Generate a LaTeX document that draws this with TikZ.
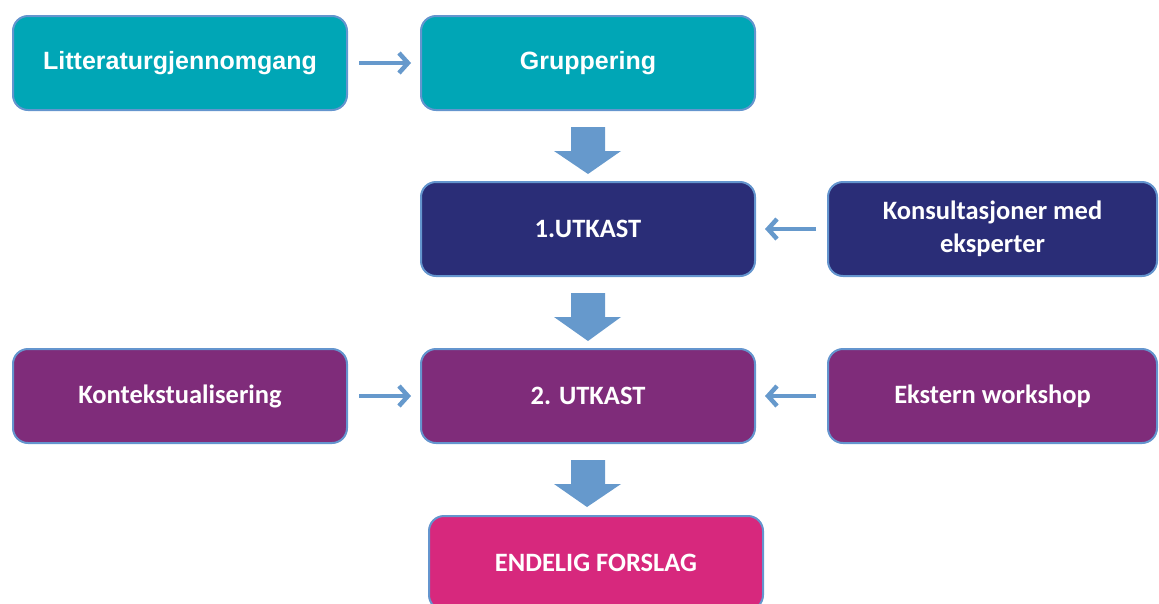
\documentclass[tikz,border=0pt]{standalone}
\usepackage{fontspec}
\setmainfont{Carlito}
\newfontfamily\topfont{Liberation Sans}
\usetikzlibrary{arrows.meta,calc}
\definecolor{cteal}{HTML}{00A6B6}
\definecolor{cnavy}{HTML}{2A2D77}
\definecolor{cpurple}{HTML}{7F2C7A}
\definecolor{cmag}{HTML}{D7287D}
\definecolor{cborder}{HTML}{6495CE}
\definecolor{carrow}{HTML}{6699CC}
\tikzset{
  stepbox/.style={draw=cborder, line width=2pt, rounded corners=15pt, minimum width=334pt, minimum height=94pt, text=white, font=\bfseries\fontsize{26.5}{33}\selectfont, align=center, inner sep=0pt, outer sep=0pt},
  topbox/.style={stepbox, fill=cteal, font=\topfont\bfseries\fontsize{25}{30}\selectfont},
  navybox/.style={stepbox, fill=cnavy},
  purplebox/.style={stepbox, fill=cpurple},
  magbox/.style={stepbox, fill=cmag},
  linearrow/.style={draw=carrow, line width=4.5pt, -{Straight Barb[length=9pt,width=20pt,line width=4.5pt]}},
}
\newcommand\blockarrow[2]{%
  \fill[carrow] ($(#1.south)+(-17,17)$) -- ($(#1.south)+(17,17)$) -- ($(#1.south)+(17,41)$) -- ($(#1.south)+(33,41)$) -- (#2) -- ($(#1.south)+(-34,41)$) -- ($(#1.south)+(-17,41)$) -- cycle;}
\begin{document}
\begin{tikzpicture}[x=1pt,y=-1pt]
\useasboundingbox (0,0) rectangle (1159,603);
\node[topbox] (lit) at (180,63) {Litteraturgjennomgang};
\node[topbox] (grp) at (588,63) {Gruppering};
\node[navybox] (u1) at (588,229) {1.UTKAST};
\node[navybox, minimum width=329pt] (kon) at (992.5,229) {Konsultasjoner med\\eksperter};
\node[purplebox] (kx) at (180,396) {Kontekstualisering};
\node[purplebox] (u2) at (588,396) {2. UTKAST};
\node[purplebox, minimum width=329pt] (ext) at (992.5,396) {Ekstern workshop};
\node[magbox] (fin) at (596,563) {ENDELIG FORSLAG};
\draw[linearrow] ([xshift=12pt]lit.east) -- ([xshift=-10pt]grp.west);
\draw[linearrow] ([xshift=-12pt]kon.west) -- ([xshift=10pt]u1.east);
\draw[linearrow] ([xshift=12pt]kx.east) -- ([xshift=-10pt]u2.west);
\draw[linearrow] ([xshift=-12pt]ext.west) -- ([xshift=10pt]u2.east);
\coordinate (t1) at ($(u1.north)+(0,-8)$);
\coordinate (t2) at ($(u2.north)+(0,-8)$);
\coordinate (t3) at ($(fin.north)+(-9,-9)$);
\blockarrow{grp}{t1}
\blockarrow{u1}{t2}
\blockarrow{u2}{t3}
\end{tikzpicture}
\end{document}
